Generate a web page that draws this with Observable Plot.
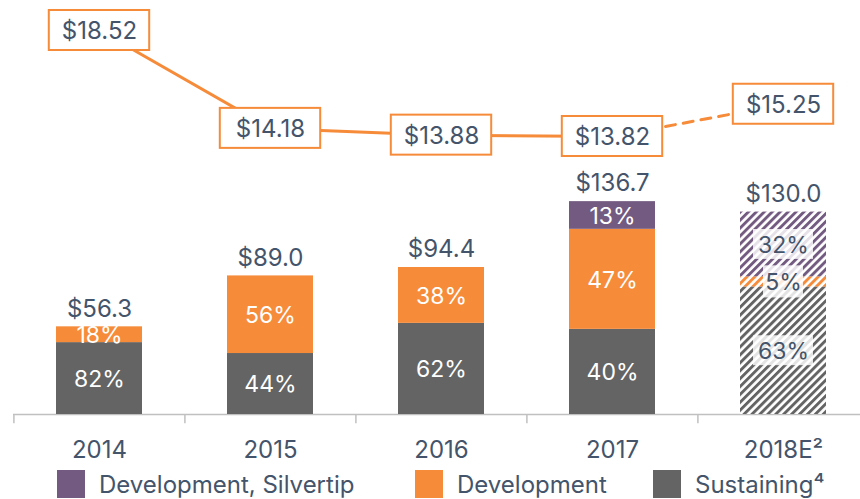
<!DOCTYPE html>
<html>
<head>
<meta charset="utf-8">
<script src="https://cdn.jsdelivr.net/npm/d3@7"></script>
<script src="https://cdn.jsdelivr.net/npm/@observablehq/plot@0.6"></script>
<style>
  body { margin: 0; background: #fff; }
  #wrap { position: relative; width: 860px; height: 499px; overflow: hidden; font-family: Inter, "Open Sans", sans-serif; }
  #bars, #line { position: absolute; left: 0; top: 0; }
  .legend-item { position: absolute; top: 470px; height: 28px; display: flex; align-items: center; font-size: 24px; color: #44546a; white-space: nowrap; }
  .sw { width: 28px; height: 28px; margin-right: 14px; flex: none; }
</style>
</head>
<body>
<div id="wrap">
  <div id="bars"></div>
  <div id="line"></div>
  <div id="legend"></div>
</div>
<script>
// ---- Data ----
const years = ["2014", "2015", "2016", "2017", "2018E²"];
const totals = [56.3, 89.0, 94.4, 136.7, 130.0];
const sustainingPct = [82, 44, 62, 40, 63];
const developmentPct = [18, 56, 38, 47, 5];
const silvertipPct = [0, 0, 0, 13, 32];
const unitCosts = [18.52, 14.18, 13.88, 13.82, 15.25];
const seriesNames = ["Sustaining", "Development", "Development, Silvertip"];
const legendLabels = ["Development, Silvertip", "Development", "Sustaining⁴"];
const estimateYear = "2018E²";

// ---- Styles ----
const textColor = "#44546a";
const orange = "#f68b3a";
const colors = {"Sustaining": "#646464", "Development": "#f68b3a", "Development, Silvertip": "#735a80"};
const hatchIds = {"Sustaining": "hatch-s", "Development": "hatch-d", "Development, Silvertip": "hatch-p"};
const FONT = "Inter, 'Open Sans', sans-serif";

// ---- Derived rows ----
const seriesPct = [sustainingPct, developmentPct, silvertipPct];
const rows = [];
years.forEach((yr, i) => {
  let base = 0;
  seriesNames.forEach((s, j) => {
    const p = seriesPct[j][i];
    if (!p) return;
    const v = totals[i] * p / 100;
    rows.push({year: yr, series: s, pct: p, y1: base, y2: base + v, mid: base + v / 2, est: yr === estimateYear});
    base += v;
  });
});
const totalRows = years.map((yr, i) => ({year: yr, total: totals[i]}));
const lineRows = years.map((yr, i) => ({year: yr, v: unitCosts[i]}));

const xScale = {domain: years, range: [13, 869], paddingInner: 0.5, paddingOuter: 0.25, axis: null};
const halfStep = (869 - 13) / 5 / 2;

const barMarks = [];
seriesNames.forEach(s => {
  barMarks.push(Plot.barY(rows.filter(r => r.series === s && !r.est), {x: "year", y1: "y1", y2: "y2", fill: colors[s]}));
  barMarks.push(Plot.barY(rows.filter(r => r.series === s && r.est), {x: "year", y1: "y1", y2: "y2", fill: `url(#${hatchIds[s]})`}));
});

const estRows = rows.filter(r => r.est);
const bars = Plot.plot({
  width: 860, height: 466,
  marginTop: 196, marginBottom: 52, marginLeft: 13, marginRight: 0,
  style: {fontFamily: FONT, background: "transparent"},
  x: xScale,
  y: {domain: [0, 140], axis: null},
  marks: [
    Plot.ruleY([0], {stroke: "#c0c0c0", strokeWidth: 1.5}),
    ...barMarks,
    Plot.ruleX(years, {x: d => d, y1: 0, y2: -6, dx: -halfStep, stroke: "#c0c0c0", strokeWidth: 1.5}),
    // background boxes for estimate labels
    Plot.barY(estRows.filter(r => String(r.pct).length > 1), {x: "year", y1: r => r.mid - 9.6, y2: r => r.mid + 9.6, insetLeft: 13, insetRight: 13, fill: "white", fillOpacity: 0.82}),
    Plot.barY(estRows.filter(r => String(r.pct).length === 1), {x: "year", y1: r => r.mid - 10.3, y2: r => r.mid + 10.3, insetLeft: 23, insetRight: 23, fill: "white", fillOpacity: 0.82}),
    Plot.text(rows.filter(r => !r.est), {x: "year", y: "mid", text: r => r.pct + "%", fill: "white", fontSize: 23, lineAnchor: "middle", dy: 1}),
    Plot.text(estRows, {x: "year", y: "mid", text: r => r.pct + "%", fill: textColor, fontSize: 23, lineAnchor: "middle", dy: 1}),
    Plot.text(totalRows, {x: "year", y: "total", text: d => "$" + d.total.toFixed(1), fill: textColor, fontSize: 24, lineAnchor: "middle", dy: -18}),
    Plot.text(years, {x: d => d, y: 0, text: d => d, fill: textColor, fontSize: 24, lineAnchor: "middle", dy: 36})
  ]
});

// hatch pattern defs
const defs = d3.select(bars).insert("defs", ":first-child");
seriesNames.forEach(s => {
  const p = defs.append("pattern").attr("id", hatchIds[s]).attr("patternUnits", "userSpaceOnUse")
    .attr("width", 5.6).attr("height", 5.6).attr("patternTransform", "rotate(45)");
  p.append("rect").attr("width", 5.6).attr("height", 5.6).attr("fill", "white");
  p.append("rect").attr("width", 2.9).attr("height", 5.6).attr("fill", colors[s]);
});
document.getElementById("bars").appendChild(bars);

const line = Plot.plot({
  width: 860, height: 170,
  marginTop: 0, marginBottom: 0, marginLeft: 13, marginRight: 0,
  style: {fontFamily: FONT, background: "transparent", overflow: "visible"},
  x: xScale,
  y: {domain: [13.82, 18.52], range: [136, 30], axis: null},
  marks: [
    Plot.line(lineRows.slice(0, 4), {x: "year", y: "v", stroke: orange, strokeWidth: 3}),
    Plot.line(lineRows.slice(3), {x: "year", y: "v", stroke: orange, strokeWidth: 3, strokeDasharray: "10,8"}),
    Plot.barY(lineRows, {x: "year", y1: d => d.v - 0.887, y2: d => d.v + 0.887, insetLeft: -7.2, insetRight: -7.2, fill: "white", stroke: orange, strokeWidth: 2}),
    Plot.text(lineRows, {x: "year", y: "v", text: d => "$" + d.v.toFixed(2), fill: textColor, fontSize: 24, lineAnchor: "middle", dy: 1})
  ]
});
document.getElementById("line").appendChild(line);

// legend
const legendLeft = [57, 415, 653];
const legendSeries = ["Development, Silvertip", "Development", "Sustaining"];
const legend = d3.select("#legend");
legendSeries.forEach((s, i) => {
  const item = legend.append("div").attr("class", "legend-item").style("left", legendLeft[i] + "px");
  item.append("div").attr("class", "sw").style("background", colors[s]);
  item.append("span").text(legendLabels[i]);
});
</script>
</body>
</html>
